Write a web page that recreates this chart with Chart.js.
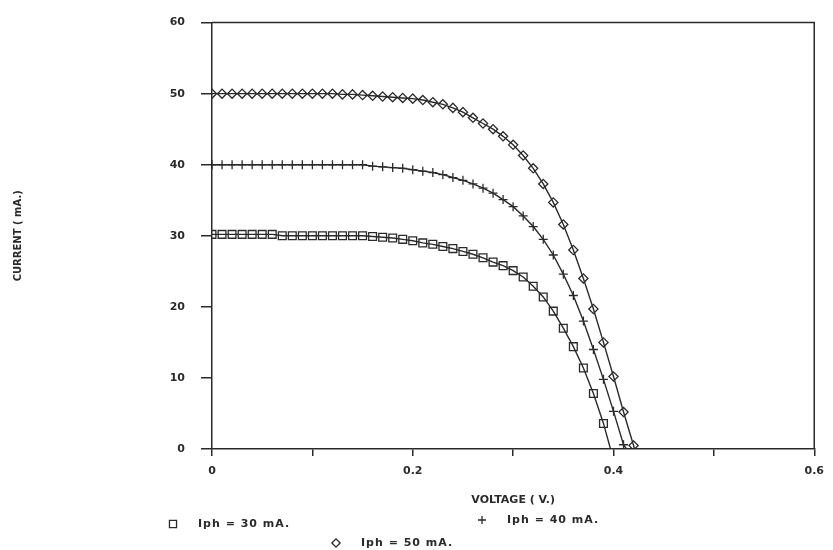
<!DOCTYPE html>
<html lang="en">
  <head>
    <meta charset="UTF-8" />
    <title>Current - Voltage</title>
    <script src="https://cdn.jsdelivr.net/npm/chart.js@4.4.0/dist/chart.umd.min.js"></script>
    <style>
      html,
      body {
        margin: 0;
        padding: 0;
        background: #fff;
      }
      #wrap {
        width: 833px;
        height: 550px;
      }
    </style>
  </head>
  <body>
    <div id="wrap">
      <canvas id="iv-chart" width="833" height="550"></canvas>
    </div>

    <script>
      // voltage steps (V.)
      const voltage = [
        0.0, 0.01, 0.02, 0.03, 0.04, 0.05, 0.06, 0.07, 0.08, 0.09, 0.1, 0.11,
        0.12, 0.13, 0.14, 0.15, 0.16, 0.17, 0.18, 0.19, 0.2, 0.21, 0.22, 0.23,
        0.24, 0.25, 0.26, 0.27, 0.28, 0.29, 0.3, 0.31, 0.32, 0.33, 0.34, 0.35,
        0.36, 0.37, 0.38, 0.39, 0.4, 0.41, 0.42,
      ];

      // current (mA.)
      const iph30 = [
        30.2, 30.2, 30.2, 30.2, 30.2, 30.2, 30.2, 30.0, 30.0, 30.0, 30.0, 30.0,
        30.0, 30.0, 30.0, 30.0, 29.9, 29.8, 29.7, 29.5, 29.3, 29.0, 28.8, 28.5,
        28.2, 27.8, 27.4, 26.9, 26.3, 25.8, 25.1, 24.2, 22.9, 21.4, 19.4, 17.0,
        14.4, 11.4, 7.8, 3.6,
      ];
      const iph40 = [
        40.0, 40.0, 40.0, 40.0, 40.0, 40.0, 40.0, 40.0, 40.0, 40.0, 40.0, 40.0,
        40.0, 40.0, 40.0, 40.0, 39.8, 39.7, 39.6, 39.5, 39.3, 39.1, 38.9, 38.6,
        38.2, 37.8, 37.3, 36.7, 36.0, 35.1, 34.1, 32.8, 31.3, 29.5, 27.3, 24.6,
        21.6, 18.0, 14.0, 9.8, 5.3, 0.6,
      ];
      const iph50 = [
        50.0, 50.0, 50.0, 50.0, 50.0, 50.0, 50.0, 50.0, 50.0, 50.0, 50.0, 50.0,
        50.0, 49.9, 49.9, 49.8, 49.7, 49.6, 49.5, 49.4, 49.3, 49.1, 48.8, 48.5,
        48.0, 47.4, 46.6, 45.8, 45.0, 44.0, 42.8, 41.3, 39.5, 37.3, 34.7, 31.6,
        28.0, 24.0, 19.7, 15.0, 10.2, 5.2, 0.5,
      ];

      // where each curve meets the voltage axis
      const openCircuitV = [0.397, 0.413, 0.421];

      const seriesLabels = ["Iph = 30 mA.", "Iph = 40 mA.", "Iph = 50 mA."];
      const markers = ["rect", "cross", "rectRot"];
      const markerSize = [5.5, 4.5, 4.6];

      const ink = "#2a2a2a";
      const font = "DejaVu Sans";

      function makeSeries(values, idx) {
        const pts = values.map((v, i) => ({ x: voltage[i], y: v }));
        pts.push({ x: openCircuitV[idx], y: 0 });
        return {
          label: seriesLabels[idx],
          data: pts,
          borderColor: ink,
          backgroundColor: "transparent",
          borderWidth: 1.4,
          pointStyle: markers[idx],
          pointRadius: (c) => (c.dataIndex < values.length ? markerSize[idx] : 0),
          pointBorderColor: ink,
          pointBorderWidth: 1.3,
          pointBackgroundColor: "transparent",
          tension: 0,
        };
      }

      // top / right frame
      const framePlugin = {
        id: "frame",
        beforeDatasetsDraw(chart) {
          const { ctx, chartArea: a } = chart;
          ctx.save();
          ctx.strokeStyle = ink;
          ctx.lineWidth = 1.5;
          ctx.beginPath();
          ctx.moveTo(a.left, a.top);
          ctx.lineTo(a.right, a.top);
          ctx.lineTo(a.right, a.bottom);
          ctx.stroke();
          ctx.restore();
        },
      };

      // legend written under the axis title, as in the plot
      const legendSpots = [
        { x: 173, y: 524 },
        { x: 482, y: 520 },
        { x: 336, y: 543 },
      ];
      const legendPlugin = {
        id: "plotLegend",
        afterDraw(chart) {
          const ctx = chart.ctx;
          chart.data.datasets.forEach((ds, i) => {
            const p = legendSpots[i];
            ctx.save();
            ctx.strokeStyle = ink;
            ctx.fillStyle = "#fff";
            ctx.lineWidth = 1.3;
            Chart.helpers.drawPoint(
              ctx,
              { pointStyle: ds.pointStyle, radius: markerSize[i] - 0.5, borderWidth: 1.3 },
              p.x,
              p.y
            );
            ctx.restore();
            ctx.save();
            ctx.fillStyle = ink;
            ctx.font = "bold 11px " + font;
            ctx.letterSpacing = "1px";
            ctx.textBaseline = "middle";
            ctx.fillText(ds.label, p.x + 25, p.y);
            ctx.restore();
          });
        },
      };

      const ivChart = new Chart(document.getElementById("iv-chart"), {
        type: "line",
        data: {
          datasets: [makeSeries(iph30, 0), makeSeries(iph40, 1), makeSeries(iph50, 2)],
        },
        options: {
          responsive: false,
          animation: false,
          layout: { padding: { left: 10, top: 18, right: 14, bottom: 0 } },
          plugins: { legend: { display: false }, tooltip: { enabled: false } },
          scales: {
            x: {
              type: "linear",
              min: 0,
              max: 0.6,
              afterFit: (s) => {
                s.height = 101;
              },
              border: { display: true, color: ink, width: 1.5 },
              grid: {
                drawOnChartArea: false,
                drawTicks: true,
                tickLength: 7,
                color: ink,
                lineWidth: 1.5,
              },
              ticks: {
                stepSize: 0.1,
                padding: 9,
                color: ink,
                font: { family: font, size: 11, weight: "bold" },
                maxRotation: 0,
                callback: (v) => {
                  const t = Math.round(v * 10);
                  if (t % 2 !== 0) return "";
                  return t === 0 ? "0" : (t / 10).toFixed(1);
                },
              },
              title: {
                display: true,
                text: "VOLTAGE ( V.)",
                color: ink,
                font: { family: font, size: 11, weight: "bold" },
                padding: { top: 0, bottom: 43 },
              },
            },
            y: {
              min: 0,
              max: 60,
              afterFit: (s) => {
                s.width = 202;
              },
              border: { display: true, color: ink, width: 1.5 },
              grid: {
                drawOnChartArea: false,
                drawTicks: true,
                tickLength: 11,
                color: ink,
                lineWidth: 1.5,
              },
              ticks: {
                stepSize: 10,
                padding: 16,
                color: ink,
                font: { family: font, size: 11, weight: "bold" },
              },
              title: {
                display: true,
                text: "CURRENT ( mA.)",
                color: ink,
                font: { family: font, size: 10, weight: "bold" },
                padding: { top: 2, bottom: 0 },
              },
            },
          },
        },
        plugins: [framePlugin, legendPlugin],
      });
    </script>
  </body>
</html>
